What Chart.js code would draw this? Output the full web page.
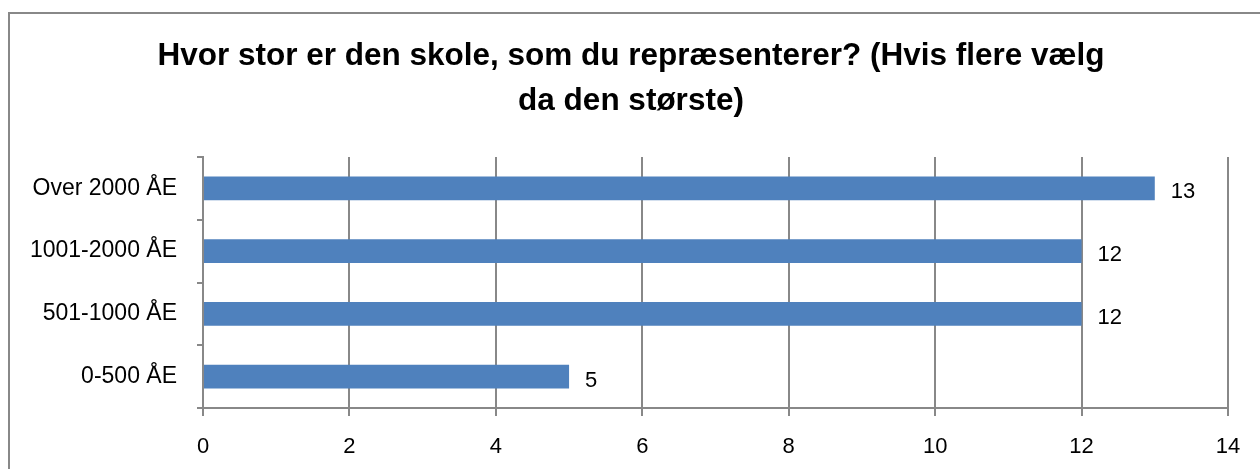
<!DOCTYPE html>
<html>
<head>
<meta charset="utf-8">
<script src="https://cdn.jsdelivr.net/npm/chart.js@4/dist/chart.umd.min.js"></script>
<style>
  html, body { margin: 0; padding: 0; background: #fff; }
  #wrap { position: relative; width: 1260px; height: 469px; }
</style>
</head>
<body>
<div id="wrap"><canvas id="sizeChart" width="1260" height="469"></canvas></div>
<script>
// Data
const categories = ['Over 2000 ÅE', '1001-2000 ÅE', '501-1000 ÅE', '0-500 ÅE'];
const counts = [13, 12, 12, 5];
const titleLines = ['Hvor stor er den skole, som du repræsenterer? (Hvis flere vælg', 'da den største)'];
const xMax = 14;
const xStep = 2;

const FONT = "'Liberation Sans', Arial, sans-serif";

// Outer frame + title drawn on the canvas
const frame = {
    id: 'frame',
    beforeDraw(chart) {
        const c = chart.ctx;
        c.save();
        c.fillStyle = '#fff';
        c.fillRect(0, 0, chart.width, chart.height);
        c.strokeStyle = '#888';
        c.lineWidth = 2;
        c.beginPath();
        c.moveTo(9, chart.height + 5);
        c.lineTo(9, 13);
        c.lineTo(chart.width + 5, 13);
        c.stroke();
        c.fillStyle = '#000';
        c.font = 'bold 31.5px ' + FONT;
        c.textAlign = 'center';
        c.textBaseline = 'middle';
        titleLines.forEach((line, i) => c.fillText(line, 631, 56 + i * 45));
        c.restore();
    }
};

// Value labels just past the bar ends
const valueLabels = {
    id: 'valueLabels',
    afterDatasetsDraw(chart) {
        const c = chart.ctx;
        c.save();
        c.fillStyle = '#000';
        c.font = '22px ' + FONT;
        c.textAlign = 'left';
        c.textBaseline = 'middle';
        chart.getDatasetMeta(0).data.forEach((bar, i) => {
            c.fillText(String(counts[i]), bar.x + 16, bar.y + 4);
        });
        c.restore();
    }
};

new Chart(document.getElementById('sizeChart').getContext('2d'), {
    type: 'bar',
    data: {
        labels: categories,
        datasets: [{
            data: counts,
            backgroundColor: '#4F81BD',
            categoryPercentage: 1,
            barPercentage: 0.38
        }]
    },
    options: {
        indexAxis: 'y',
        responsive: false,
        animation: false,
        layout: { padding: { top: 157, right: 32, left: 0, bottom: 0 } },
        plugins: {
            legend: { display: false },
            title: { display: false },
            tooltip: { enabled: false }
        },
        scales: {
            x: {
                min: 0,
                max: xMax,
                ticks: { stepSize: xStep, color: '#000', font: { family: FONT, size: 22 }, padding: 18 },
                grid: { color: '#888', lineWidth: 2, tickLength: 8, drawOnChartArea: true },
                border: { color: '#888', width: 2 },
                afterFit(scale) { scale.height = 61; }
            },
            y: {
                ticks: { color: '#000', font: { family: FONT, size: 23 }, padding: 20 },
                grid: { color: '#888', lineWidth: 2, tickLength: 6, drawOnChartArea: false, offset: true },
                border: { color: '#888', width: 2 },
                afterFit(scale) { scale.width = 203; }
            }
        }
    },
    plugins: [frame, valueLabels]
});
</script>
</body>
</html>
